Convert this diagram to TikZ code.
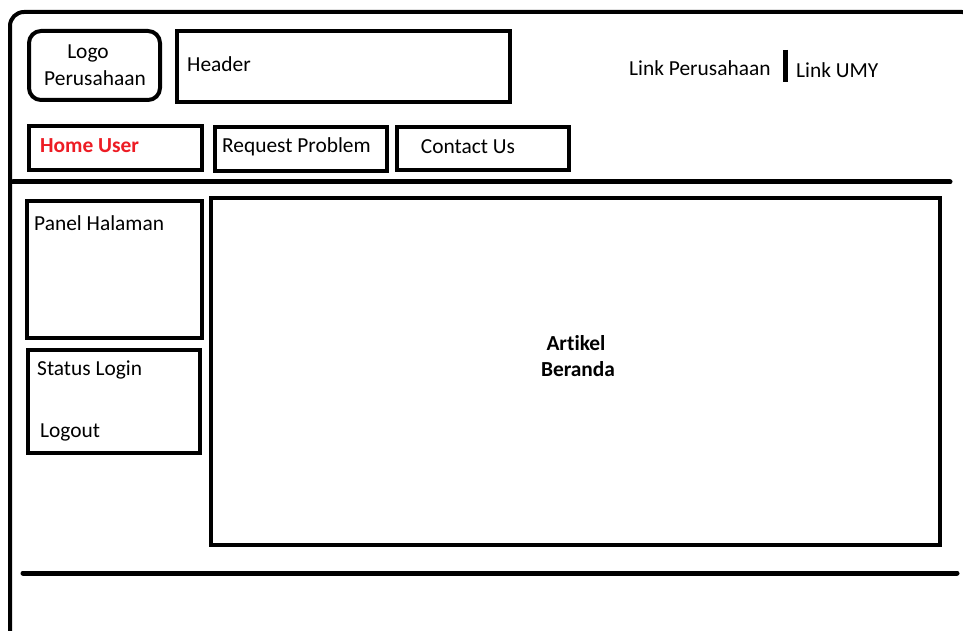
\documentclass[tikz,border=0pt]{standalone}
\usepackage{fontspec}
\setmainfont[Ligatures=NoCommon]{Carlito}
\begin{document}
\begin{tikzpicture}[x=1pt,y=-1pt,
  frame/.style={draw=black,line width=4pt},
  box/.style={frame,rectangle,inner sep=0pt,anchor=north west},
  lbl/.style={inner sep=0pt,font=\fontsize{21.4}{25}\selectfont},
  rule/.style={line width=5pt,line cap=round}]
\useasboundingbox (0,0) rectangle (963,631);
\begin{scope}
\clip (0,0) rectangle (963,631);
% outer page frame, running past the right and bottom edges
\draw[line width=4pt,rounded corners=14pt] (10,660) -- (10,12) -- (976,12) -- (976,660);
\end{scope}

% header row
\node[box,rounded corners=12pt,minimum width=131pt,minimum height=69pt] (logo) at (27,29) {};
\node[lbl] (logotxt1) at (88,53) {Logo};
\node[lbl] (logotxt2) at (95,78) {Perusahaan};
\node[box,minimum width=333pt,minimum height=71pt] (header) at (175,29) {};
\node[lbl,anchor=west] (headertxt) at (187,64) {Header};
\node[lbl,anchor=west] (linkp) at (629,68) {Link Perusahaan};
\coordinate (septop) at (785,50);
\coordinate (sepbot) at (785,82);
\draw[line width=5pt] (septop) -- (sepbot);
\node[lbl,anchor=west] (linku) at (796,70) {Link UMY};

% navigation menu
\node[box,minimum width=173pt,minimum height=44pt] (home) at (27,124) {};
\node[lbl,anchor=west,text={rgb,255:red,237;green,28;blue,36},font=\fontsize{21.4}{25}\selectfont\bfseries] (hometxt) at (40,146) {Home User};
\node[box,minimum width=172pt,minimum height=44pt] (request) at (213,125) {};
\node[lbl,anchor=west] (requesttxt) at (222,147) {Request Problem};
\node[box,minimum width=172pt,minimum height=43pt] (contact) at (395,125) {};
\node[lbl] (contacttxt) at (468,147) {Contact Us};

% separator under the menu
\coordinate (r1a) at (13,182);
\coordinate (r1b) at (950,182);
\draw[rule] (r1a) -- (r1b);

% left side panels
\node[box,minimum width=175pt,minimum height=137pt] (panel) at (25,199) {};
\node[lbl,anchor=west] (paneltxt) at (34,223) {Panel Halaman};
\node[box,minimum width=172pt,minimum height=103pt] (status) at (26,348) {};
\node[lbl,anchor=west] (statustxt) at (37,370) {Status Login};
\node[lbl,anchor=west] (logouttxt) at (40,432) {Logout};

% main article area
\node[box,minimum width=729pt,minimum height=347pt] (artikel) at (209,196) {};
\node[lbl,font=\fontsize{21.4}{26}\selectfont\bfseries] (artikeltxt1) at (576,343) {Artikel};
\node[lbl,font=\fontsize{21.4}{26}\selectfont\bfseries] (artikeltxt2) at (578,369) {Beranda};

% footer separator
\coordinate (r2a) at (23,573);
\coordinate (r2b) at (957,573);
\draw[rule] (r2a) -- (r2b);
\end{tikzpicture}
\end{document}
